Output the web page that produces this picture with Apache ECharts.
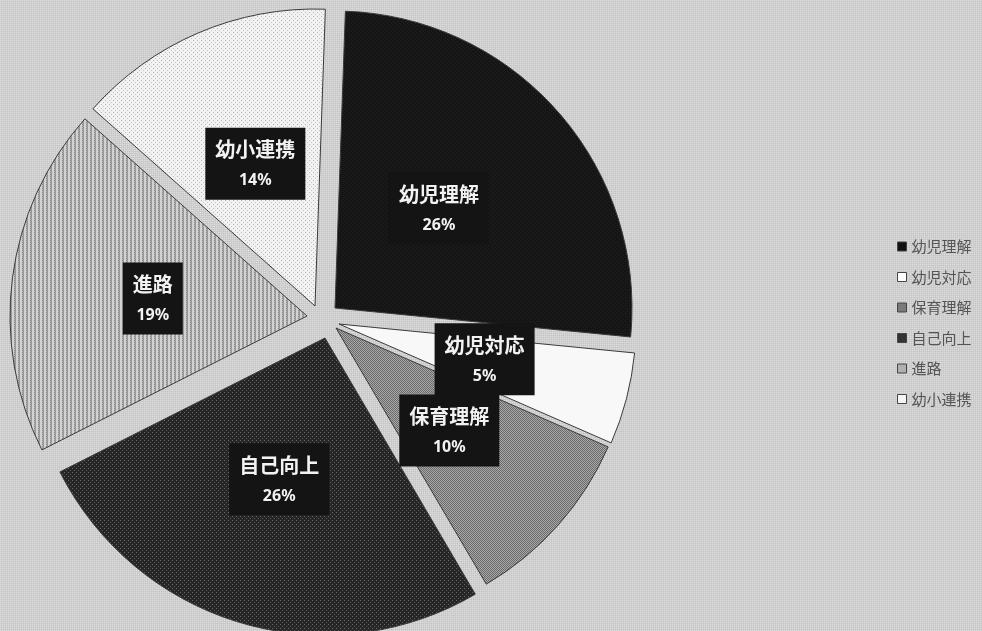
<!DOCTYPE html>
<html>
<head>
<meta charset="utf-8">
<script src="https://cdn.jsdelivr.net/npm/echarts@6/dist/echarts.min.js"></script>
<style>
html,body{margin:0;padding:0;}
#c{width:982px;height:631px;}
</style>
</head>
<body>
<div id="c"></div>
<script>
// ---- data ----
const categories = ['幼児理解', '幼児対応', '保育理解', '自己向上', '進路', '幼小連携'];
const values = [26, 5, 10, 26, 19, 14];

// ---- patterns ----
function makePattern(w, h, base, dots) {
  const cv = document.createElement('canvas');
  cv.width = w; cv.height = h;
  const ctx = cv.getContext('2d');
  ctx.fillStyle = base; ctx.fillRect(0, 0, w, h);
  dots.forEach(d => { ctx.fillStyle = d[2]; ctx.fillRect(d[0], d[1], 1, 1); });
  return cv;
}
const bgCanvas = makePattern(2, 2, '#cfcfcf', [[0,0,'#dcdcdc'],[1,1,'#c4c4c4']]);
document.getElementById('c').style.background = 'url(' + bgCanvas.toDataURL() + ')';

const pats = [
  makePattern(4, 4, '#151515', [[1,1,'#262626'],[3,3,'#222222']]),
  makePattern(2, 2, '#f8f8f8', []),
  makePattern(2, 2, '#6a6a6a', [[1,0,'#a8a8a8'],[0,1,'#a8a8a8']]),
  makePattern(4, 4, '#262626', [[0,0,'#6a6a6a'],[2,2,'#5a5a5a']]),
  makePattern(4, 2, '#d2d2d2', [[2,0,'#8a8a8a'],[2,1,'#b4b4b4'],[3,0,'#a0a0a0'],[3,1,'#909090']]),
  makePattern(4, 4, '#f1f1f1', [[1,0,'#b8b8b8'],[3,2,'#c4c4c4']])
];

// per-slice exploded centres (pixel)
const centres = [[335, 308], [339, 324], [336, 328], [325, 338], [307, 316], [315, 306]];
const labelOffsets = [[-10, 0], [-1, -3], [0, 2], [-3, -4], [-4, 2], [0, -3]];
const legendColors = ['#111111', '#ffffff', '#7a7a7a', '#333333', '#b0b0b0', '#f4f4f4'];

const series = categories.map((cat, i) => ({
  type: 'pie',
  silent: true,
  center: centres[i],
  radius: 297,
  startAngle: 88,
  clockwise: true,
  animation: false,
  avoidLabelOverlap: false,
  labelLayout: { hideOverlap: false },
  labelLine: { show: false },
  emphasis: { disabled: true },
  label: {
    show: true,
    position: 'inside',
    offset: labelOffsets[i],
    formatter: '{n|{b}}\n{p|{c}%}',
    backgroundColor: '#141414',
    padding: [6, 10, 4, 10],
    rich: {
      n: { fontFamily: 'Noto Sans CJK JP', fontSize: 20, color: '#f2f2f2', lineHeight: 32, fontWeight: 'bold' },
      p: { fontFamily: 'Noto Sans', fontSize: 16, color: '#f2f2f2', lineHeight: 30, fontWeight: 'bold' }
    }
  },
  data: categories.map((n, j) => j === i ? {
    name: n, value: values[j],
    itemStyle: { color: { image: pats[j], repeat: 'repeat' }, borderColor: '#3a3a3a', borderWidth: 1 }
  } : {
    name: n, value: values[j],
    itemStyle: { color: 'rgba(0,0,0,0)', borderWidth: 0 },
    label: { show: false }
  })
}));

const chart = echarts.init(document.getElementById('c'), null, { renderer: 'canvas' });
chart.setOption({
  backgroundColor: 'transparent',
  legend: {
    orient: 'vertical',
    left: 892,
    top: 234,
    itemWidth: 9,
    itemHeight: 9,
    itemGap: 15.5,
    icon: 'rect',
    selectedMode: false,
    textStyle: { fontFamily: 'Noto Sans CJK JP', fontSize: 15, color: '#555555' },
    data: categories.map((n, j) => ({
      name: n,
      itemStyle: { color: legendColors[j], borderColor: '#444444', borderWidth: 1 }
    }))
  },
  series: series
});
</script>
</body>
</html>
